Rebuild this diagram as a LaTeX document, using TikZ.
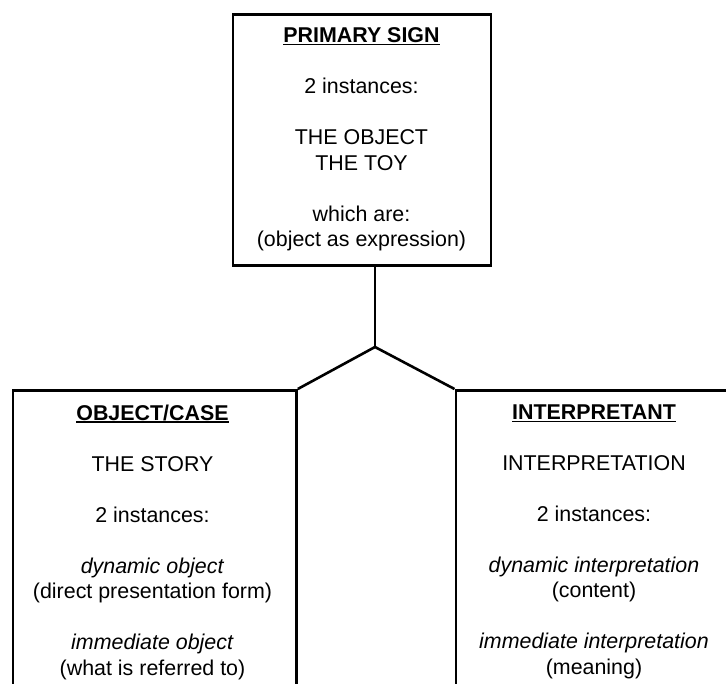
\documentclass[tikz,border=0pt]{standalone}
\usepackage{fontspec}
\setmainfont{Liberation Sans}
% bold heading with a thin underline
\newcommand{\hdr}[1]{\setbox0\hbox{\bfseries #1}\rlap{\rule[-2.6pt]{\wd0}{1.5pt}}\box0}
\begin{document}
\begin{tikzpicture}[x=1pt,y=-1pt,
  frame/.style={draw=black, line width=2.8pt, rectangle, inner sep=0pt, anchor=north west},
  link/.style={draw=black, line width=2.6pt, line join=miter},
  txt/.style={align=center, inner sep=0pt, anchor=north,
              font=\fontsize{21.4pt}{25.5pt}\selectfont}]
\useasboundingbox (0,0) rectangle (726,684);
\clip (0,0) rectangle (726,684);
\fill[white] (0,0) rectangle (726,684);

% the three boxes (the lower two run past the page edges)
\node[frame, minimum width=258pt, minimum height=251pt] (sign) at (231.5,13.5) {};
\node[frame, minimum width=283.5pt, minimum height=400pt] (obj) at (11.5,389) {};
\node[frame, minimum width=285pt, minimum height=400pt] (int) at (454.5,389) {};

% box contents
\node[txt] (signtxt) at (361.5,27.5) {\hdr{PRIMARY SIGN}\\[25.5pt]
  2 instances:\\[25.5pt]
  THE OBJECT\\ THE TOY\\[25.5pt]
  which are:\\ (object as expression)};
\node[txt] (objtxt) at (152.5,404.5) {\hdr{OBJECT/CASE}\\[25.5pt]
  THE STORY\\[25.5pt]
  2 instances:\\[25.5pt]
  \textit{dynamic object}\\ (direct presentation form)\\[25.5pt]
  \textit{immediate object}\\ (what is referred to)};
\node[txt] (inttxt) at (594,404.5) {\hdr{INTERPRETANT}\\[25.5pt]
  INTERPRETATION\\[25.5pt]
  2 instances:\\[25.5pt]
  \textit{dynamic interpretation}\\ (content)\\[25.5pt]
  \textit{immediate interpretation}\\ (meaning)};

% connectors
\coordinate (joint) at (375,347);
\draw[link] (sign.south -| joint) -- (joint);
\draw[link] (obj.north east) -- (joint) -- (int.north west);
\end{tikzpicture}
\end{document}
